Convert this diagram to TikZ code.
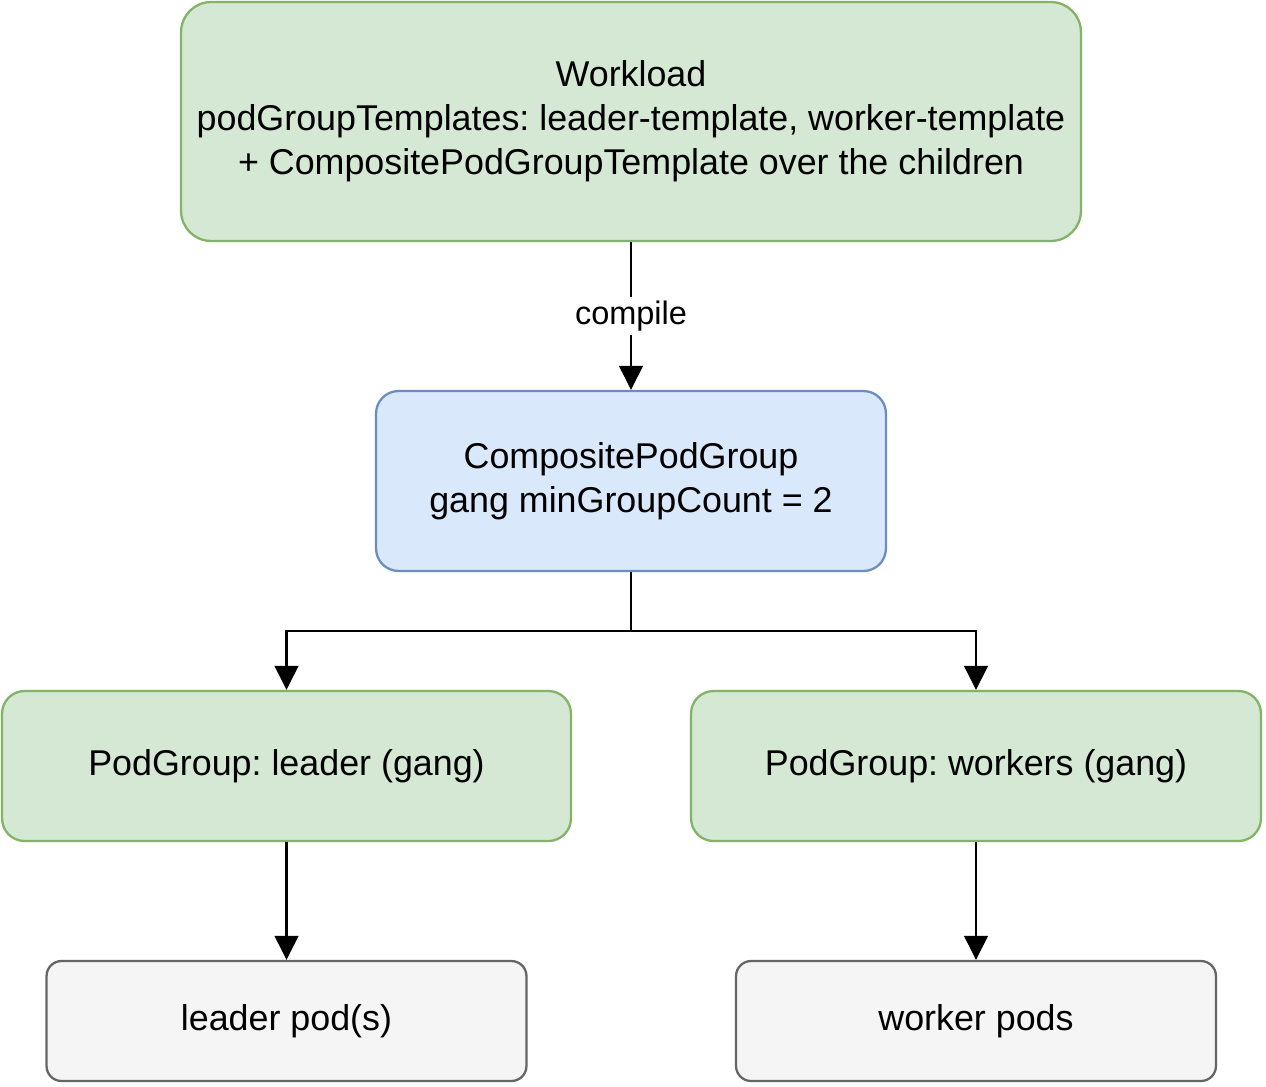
\documentclass[tikz,border=0pt]{standalone}
\usepackage{fontspec}
\setmainfont{Liberation Sans}
\frenchspacing
\usetikzlibrary{arrows.meta}

\definecolor{greenfill}{HTML}{D5E8D4}
\definecolor{greenline}{HTML}{82B366}
\definecolor{bluefill}{HTML}{DAE8FC}
\definecolor{blueline}{HTML}{6C8EBF}
\definecolor{grayfill}{HTML}{F5F5F5}
\definecolor{grayline}{HTML}{666666}

\tikzset{
  box/.style={draw, line width=1.3pt, align=center, inner sep=0pt,
    font=\fontsize{20.4}{25}\selectfont},
  greenbox/.style={box, fill=greenfill, draw=greenline},
  bluebox/.style={box, fill=bluefill, draw=blueline},
  graybox/.style={box, fill=grayfill, draw=grayline},
  link/.style={line width=1.5pt, -{Triangle[length=0.48cm, width=0.47cm]}}
}

\begin{document}
\begin{tikzpicture}[x=0.02cm, y=-0.02cm]
  \useasboundingbox (0,0) rectangle (1266,1086);

  \node[greenbox, minimum width=18cm, minimum height=4.78cm, rounded corners=0.6cm]
    (workload) at (631,121.5)
    {Workload\\podGroupTemplates: leader-template, worker-template\\+ CompositePodGroupTemplate over the children};
  \node[bluebox, minimum width=10.2cm, minimum height=3.6cm, rounded corners=0.45cm]
    (composite) at (631,481) {CompositePodGroup\\gang minGroupCount = 2};
  \node[greenbox, minimum width=11.38cm, minimum height=3cm, rounded corners=0.45cm]
    (leader) at (286.5,766) {PodGroup: leader (gang)};
  \node[greenbox, minimum width=11.4cm, minimum height=3cm, rounded corners=0.45cm]
    (workers) at (976,766) {PodGroup: workers (gang)};
  \node[graybox, minimum width=9.6cm, minimum height=2.4cm, rounded corners=0.3cm]
    (leaderpods) at (286.5,1021) {leader pod(s)};
  \node[graybox, minimum width=9.6cm, minimum height=2.4cm, rounded corners=0.3cm]
    (workerpods) at (976,1021) {worker pods};

  \coordinate (split) at (631,631);

  \draw[link] (workload) -- (composite)
    node[midway, fill=white, inner sep=2pt, font=\fontsize{18.5}{22}\selectfont] {compile};
  \draw[line width=1.5pt] (composite) -- (split);
  \draw[link] (split) -| (leader);
  \draw[link] (split) -| (workers);
  \draw[link] (leader) -- (leaderpods);
  \draw[link] (workers) -- (workerpods);
\end{tikzpicture}
\end{document}
